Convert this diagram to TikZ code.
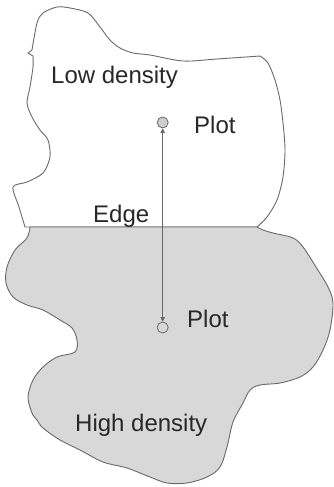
\documentclass[tikz,border=0pt]{standalone}
\usepackage{fontspec}
\setmainfont{Liberation Sans}
\usetikzlibrary{arrows.meta}
\definecolor{regiongrey}{RGB}{216,216,216}
\definecolor{outline}{RGB}{105,105,105}
\definecolor{txt}{RGB}{40,40,40}
\definecolor{dotgrey}{RGB}{205,205,205}
\tikzset{
  lbl/.style={font=\fontsize{24}{28}\selectfont, text=txt, inner sep=0pt, anchor=base west},
  border/.style={draw=outline, line width=0.9pt, line join=round},
  plotdot/.style={circle, draw=outline, line width=0.8pt, minimum size=11pt, inner sep=0pt},
  link/.style={draw=outline, line width=0.9pt, {Triangle[length=4.5pt,width=4.5pt]}-{Triangle[length=4.5pt,width=4.5pt]}}
}
\begin{document}
\begin{tikzpicture}[x=1pt,y=-1pt]
\useasboundingbox (0,0) rectangle (333,487);
% low-density (white) region
\draw[border, fill=white] (25,227)
 -- plot[smooth, tension=0.5] coordinates {
 (25,227) (19,207) (13,187) (27,182) (43,173) (50,157) (48,140) (40,130) (32,117) (27,103) (30,87) (33,67) (33,56)}
 -- (28,53) -- (32,50)
 -- plot[smooth, tension=0.5] coordinates {(32,50) (37,23) (43,13) (57,7) (70,8) (88,13) (100,27) (110,40) (120,48) (133,53) (150,55) (183,61) (217,59) (260,56)}
 -- plot[smooth, tension=0.5] coordinates {(260,56) (268,63) (275,80) (280,100) (283,123) (285,150) (283,177) (277,200) (267,217) (257,227)}
 -- cycle;
% high-density (grey) region
\draw[border, fill=regiongrey] (30,227) -- (257,227)
 -- plot[smooth, tension=0.55] coordinates {(257,227) (263,230) (273,233) (293,238) (303,247) (316,267) (328,287) (333,303) (330,330) (323,350) (313,367) (300,377) (280,383) (260,385) (250,390) (243,403) (233,422) (227,447) (220,467) (207,477) (187,483) (167,483) (150,477) (127,468) (103,462) (80,450) (60,440) (43,428) (37,420) (32,413) (28,397) (33,380) (43,367) (57,357) (75,352) (77,340) (72,328) (60,320) (43,310) (27,305) (13,297) (6,283) (7,267) (15,250) (27,238) (30,227)}
 -- cycle;
% labels
\node[lbl] (low) at (51,84) {Low density};
\node[lbl] (plotA) at (194,133) {Plot};
\node[lbl] (edge) at (93,222) {Edge};
\node[lbl] (plotB) at (187,327) {Plot};
\node[lbl] (high) at (75,431) {High density};
% plots and connector
\node[plotdot, fill=dotgrey] (pA) at (162.7,122.5) {};
\node[plotdot, fill=regiongrey] (pB) at (162.7,327.5) {};
\draw[link] (pA) -- (pB);
\end{tikzpicture}
\end{document}
